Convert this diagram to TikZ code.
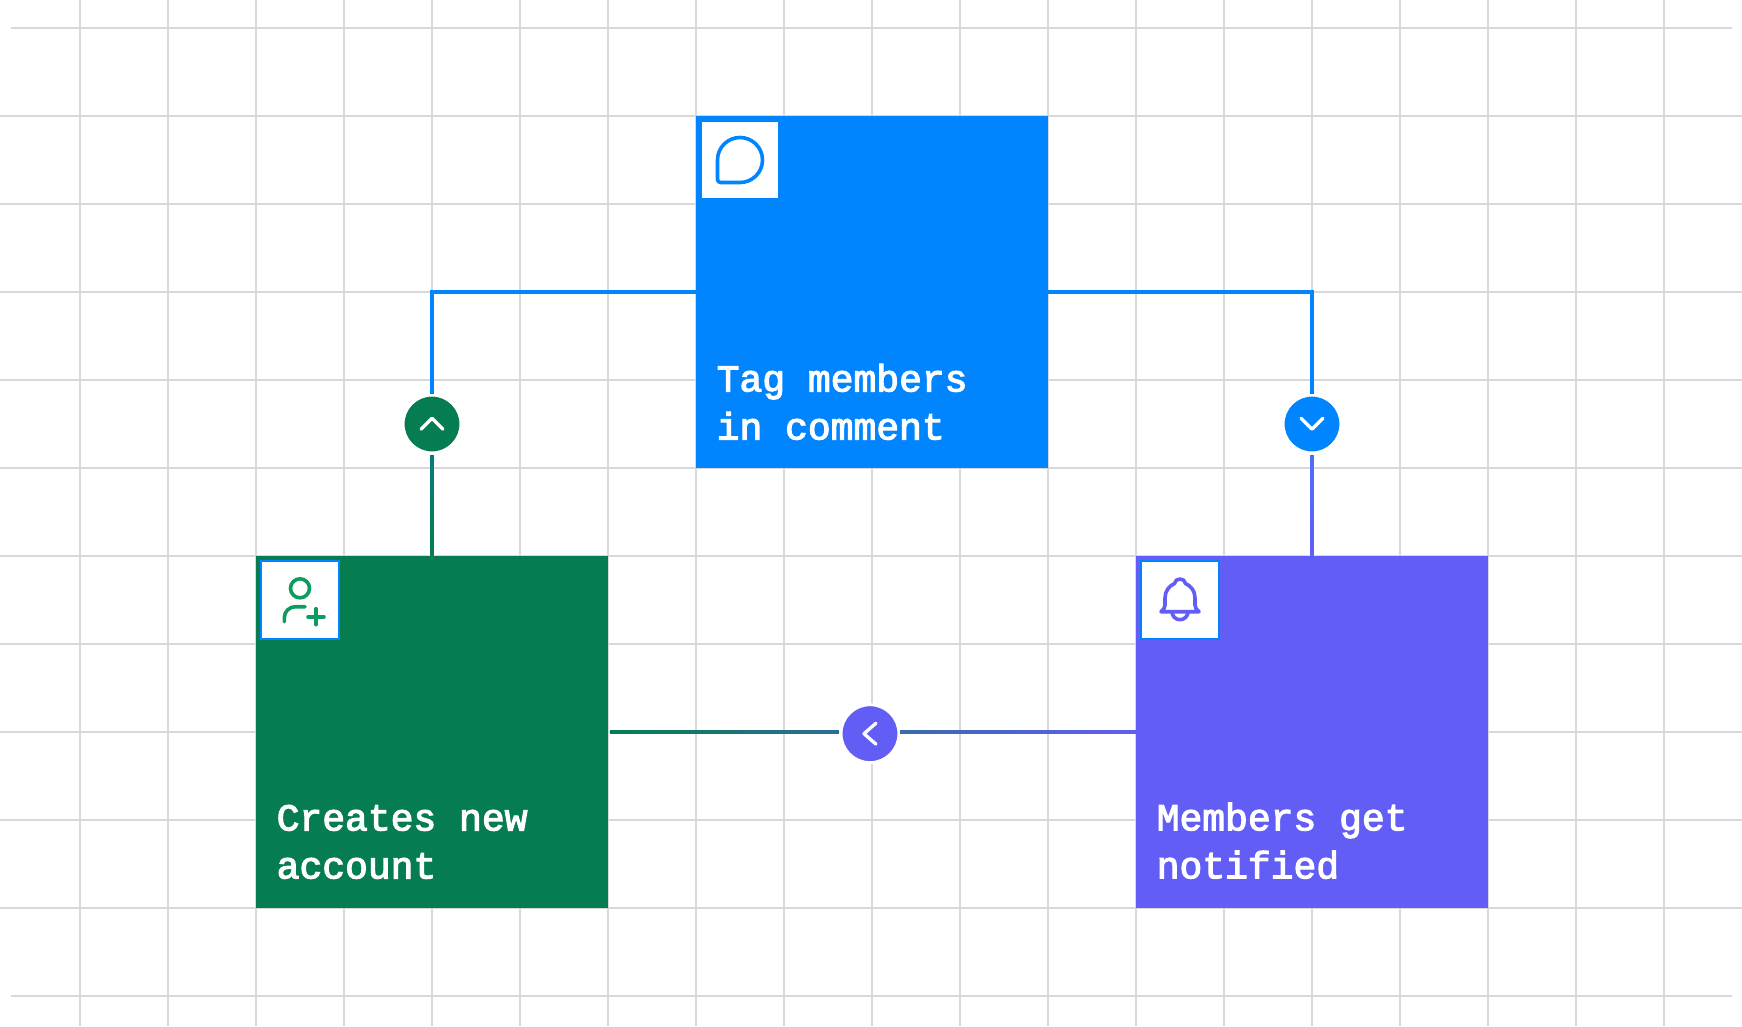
\documentclass[tikz,border=0pt]{standalone}
\usepackage{fontspec}
\usetikzlibrary{positioning,calc}
\newfontfamily\platefont{Liberation Mono}[FakeBold=3]
\definecolor{tagblue}{HTML}{0085FF}
\definecolor{plategreen}{HTML}{067D51}
\definecolor{platepurple}{HTML}{625DF5}
\definecolor{icongreen}{HTML}{0E9B5E}
\definecolor{gridgray}{HTML}{D9D9D9}
\definecolor{linkteal}{HTML}{087C80}
\definecolor{linkindigo}{HTML}{4F6EF7}
\definecolor{linkmidl}{HTML}{2C6F95}
\definecolor{linkmidr}{HTML}{396BAC}
\begin{document}
\begin{tikzpicture}[
        x=88pt, y=-88pt,
        gridline/.style={draw=gridgray, line width=2pt},
        plate/.style={rectangle, minimum size=352pt, inner sep=0pt, outer sep=0pt},
        platelabel/.style={inner sep=0pt, align=left, text=white, font=\platefont\fontsize{38}{48}\selectfont},
        iconbox/.style={rectangle, fill=white, draw=tagblue, line width=2pt, minimum size=78pt, inner sep=0pt},
        button/.style={circle, draw=white, line width=3pt, minimum size=58pt, inner sep=0pt},
        icon/.style={line width=3.6pt, line cap=round, line join=round},
        chevron/.style={white, line width=3.3pt, line cap=round, line join=round},
        link/.style={line width=4pt}
    ]
    \useasboundingbox (-80pt,28pt) rectangle (1662pt,-998pt);

    % grid
    \foreach \x in {0,...,18}
        \draw[gridline] (\x,-0.318) -- (\x,11.341);
    \foreach \y in {1,...,10}
        \draw[gridline] (-0.909,\y) -- (18.886,\y);
    \draw[gridline] (-0.784,0) -- (18.773,0);
    \draw[gridline] (-0.784,11) -- (18.773,11);

    % plates
    \node[plate, fill=tagblue] (tag) at (9,3) {};
    \node[plate, fill=plategreen] (account) at (4,8) {};
    \node[plate, fill=platepurple] (notify) at (14,8) {};

    \node[platelabel, above right=28pt and 20.5pt of tag.south west] (taglabel) {Tag members\\in comment};
    \node[platelabel, above right=29pt and 20.5pt of account.south west] (accountlabel) {Creates new\\account};
    \node[platelabel, above right=29pt and 20.5pt of notify.south west] (notifylabel) {Members get\\notified};

    \node[iconbox] (tagicon) at (7.5,1.5) {};
    \node[iconbox] (accounticon) at (2.5,6.5) {};
    \node[iconbox] (notifyicon) at (12.5,6.5) {};

    % buttons
    \node[button, fill=plategreen] (upbtn) at (4,4.5) {};
    \node[button, fill=tagblue] (downbtn) at (14,4.5) {};
    \node[button, fill=platepurple] (backbtn) at (8.977,8.019) {};

    \draw[chevron, shift={(upbtn.center)}] (-11pt,-5.3pt) -- (0pt,5.7pt) -- (11pt,-5.3pt);
    \draw[chevron, shift={(downbtn.center)}] (-11pt,5.7pt) -- (0pt,-5.3pt) -- (11pt,5.7pt);
    \draw[chevron, shift={(backbtn.center)}] (6pt,10.5pt) -- (-6pt,0pt) -- (6pt,-10.5pt);

    % icons
    \begin{scope}[shift={(tagicon.center)}, x=1pt, y=1pt]
        \draw[icon, tagblue] (0,-22.5) arc[start angle=-90, end angle=180, radius=22.5]
            -- (-22.5,-19.5) arc[start angle=180, end angle=270, radius=3] -- cycle;
    \end{scope}
    \begin{scope}[shift={(accounticon.center)}, x=1pt, y=1pt]
        \draw[icon, icongreen] (0,11.7) circle[radius=9.5];
        \draw[icon, icongreen] (-15.7,-21.7) -- (-15.7,-17.7) arc[start angle=180, end angle=90, radius=11] -- (5,-6.7);
        \draw[icon, icongreen] (8,-16.7) -- (24,-16.7);
        \draw[icon, icongreen] (16,-8.7) -- (16,-24.7);
    \end{scope}
    \begin{scope}[shift={(notifyicon.center)}, x=1pt, y=1pt]
        \draw[icon, platepurple] (-19,-11.7) -- (19,-11.7) .. controls (16.5,-9.5) and (15,-8) .. (15,-5) -- (15,2)
            .. controls (15,9) and (11,14) .. (5.5,16.5) .. controls (5,22.5) and (-5,22.5) .. (-5.5,16.5)
            .. controls (-11,14) and (-15,9) .. (-15,2) -- (-15,-5) .. controls (-15,-8) and (-16.5,-9.5) .. (-19,-11.7) -- cycle;
        \draw[icon, platepurple] (-8,-11.7) arc[start angle=180, end angle=360, radius=8];
    \end{scope}

    % connectors
    \coordinate (accountout) at ($(account.east)+(2pt,0)$);
    \coordinate (backleft) at (backbtn.west |- account.east);
    \coordinate (backright) at (backbtn.east |- account.east);

    \draw[link, tagblue] (tag.west) -| (upbtn.north);
    \draw[link, tagblue] (tag.east) -| (downbtn.north);
    \foreach \a/\b/\ca/\cb in {upbtn.south/account.north/linkteal/plategreen,
            downbtn.south/notify.north/linkindigo/platepurple,
            accountout/backleft/plategreen/linkmidl,
            backright/notify.west/linkmidr/platepurple} {
        \foreach \i [evaluate=\i as \s using \i/24,
                evaluate=\i as \p using 100*(\i+0.5)/24] in {0,...,23} {
            \pgfmathsetmacro{\e}{min((\i+1.4)/24,1)}
            \draw[link, draw={\cb!\p!\ca}] ($(\a)!\s!(\b)$) -- ($(\a)!\e!(\b)$);
        }
    }

\end{tikzpicture}
\end{document}
